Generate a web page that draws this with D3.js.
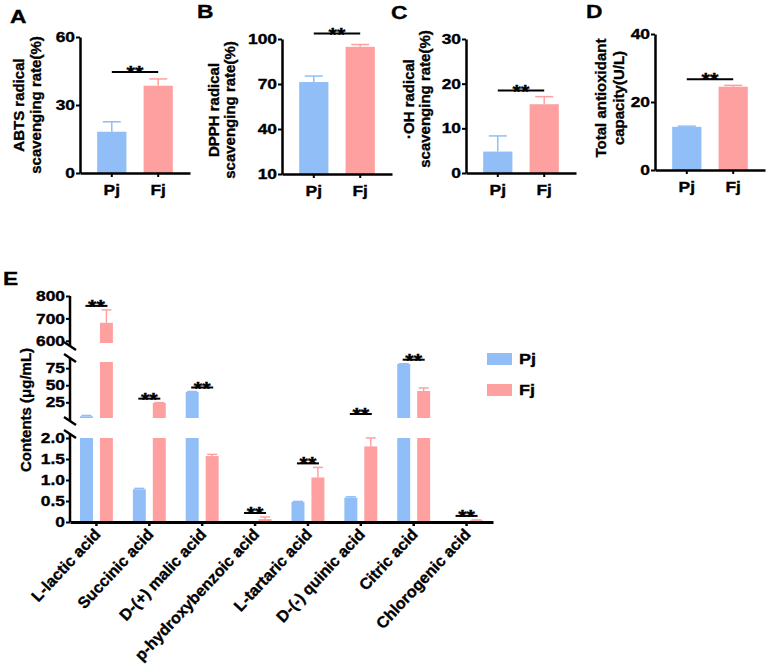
<!DOCTYPE html>
<html>
<head>
<meta charset="utf-8">
<script src="https://cdn.jsdelivr.net/npm/d3@7"></script>
<style>
  body { margin: 0; background: #fff; }
  text { font-family: "Liberation Sans", Arial, sans-serif; font-weight: bold; fill: #000; stroke: #000; stroke-width: 0.35px; }
</style>
</head>
<body>
<svg id="fig" width="767" height="671"></svg>
<script>
// ---- data ----
var groups = ["Pj", "Fj"];
var colors = ["#91BEF7", "#FFA0A0"];

// panels A-D
var letters = ["A", "B", "C", "D"];
var titles = [["ABTS radical", "scavenging rate(%)"],
              ["DPPH radical", "scavenging rate(%)"],
              ["\u00B7OH radical", "scavenging rate(%)"],
              ["Total antioxidant", "capacity(U/L)"]];
var domains = [[0, 60], [10, 100], [0, 30], [0, 40]];
var yTicks = [[0, 30, 60], [10, 40, 70, 100], [0, 10, 20, 30], [0, 20, 40]];
var pjMean = [18.2, 71.3, 4.8, 12.7];
var pjErr = [4.4, 4.0, 3.5, 0.2];
var fjMean = [38.5, 94.8, 15.4, 24.5];
var fjErr = [3.0, 1.5, 1.7, 0.4];

// panel E
var acids = ["L-lactic acid", "Succinic acid", "D-(+) malic acid", "p-hydroxybenzoic acid",
             "L-tartaric acid", "D-(-) quinic acid", "Citric acid", "Chlorogenic acid"];
var pjContent = [4.5, 0.78, 40, 0, 0.48, 0.58, 81, 0];
var pjContentErr = [1.2, 0.02, 0.8, 0, 0.01, 0.02, 0.5, 0];
var fjContent = [680, 24, 1.57, 0.07, 1.06, 1.8, 41.5, 0.04];
var fjContentErr = [58, 0.5, 0.04, 0.05, 0.24, 0.22, 4.5, 0.01];
var segDomains = [[0, 2], [2, 84], [590, 800]];
var segTicks = [[0, 0.5, 1, 1.5, 2], [25, 50, 75], [600, 700, 800]];
var segFormats = [function(d){ return d == 0 ? "0" : d3.format(".1f")(d); }, d3.format("d"), d3.format("d")];

// ---- layout ----
var svg = d3.select("#fig");
var SX = 1.2; // glyphs in the figure look wider than tall

function hText(parent, x, y, txt, size, anchor) {
  return parent.append("text")
    .attr("transform", "translate(" + x + "," + y + ") scale(" + SX + ",1)")
    .attr("text-anchor", anchor || "middle")
    .style("font-size", size + "px")
    .text(txt);
}

var boxes = [
  {x: 80, top: 37, bot: 173, l: [10, 23], t: [24, 41], ty: 105, gap: 7},
  {x: 282, top: 39, bot: 174, l: [197, 18], t: [219, 235], ty: 110, gap: 11},
  {x: 466, top: 39, bot: 173, l: [391, 19], t: [414, 430], ty: 99, gap: 6},
  {x: 655, top: 34, bot: 170, l: [586, 18], t: [606, 624], ty: 98, gap: 6}
];
var panelW = 110;

boxes.forEach(function(b, i) {
  var g = svg.append("g");
  var x = d3.scaleBand().domain(groups).range([b.x, b.x + panelW]).paddingInner(0.37).paddingOuter(0.37);
  var y = d3.scaleLinear().domain(domains[i]).range([b.bot, b.top]);
  var means = [pjMean[i], fjMean[i]], errs = [pjErr[i], fjErr[i]];

  // error bars first, bars on top
  groups.forEach(function(k, j) {
    var cx = x(k) + x.bandwidth() / 2;
    g.append("line").attr("x1", cx).attr("x2", cx)
      .attr("y1", y(means[j])).attr("y2", y(means[j] + errs[j]))
      .attr("stroke", colors[j]).attr("stroke-width", 1.5);
    g.append("line").attr("x1", cx - 9).attr("x2", cx + 9)
      .attr("y1", y(means[j] + errs[j])).attr("y2", y(means[j] + errs[j]))
      .attr("stroke", colors[j]).attr("stroke-width", 1.5);
  });
  g.selectAll("rect.bar").data(groups).enter().append("rect")
    .attr("class", "bar")
    .attr("x", function(d) { return x(d); })
    .attr("width", x.bandwidth())
    .attr("y", function(d, j) { return y(means[j]); })
    .attr("height", function(d, j) { return b.bot - y(means[j]); })
    .attr("fill", function(d, j) { return colors[j]; });

  var ya = g.append("g").attr("transform", "translate(" + b.x + ",0)")
    .call(d3.axisLeft(y).tickValues(yTicks[i]).tickSize(4).tickPadding(2).tickSizeOuter(0));
  var xa = g.append("g").attr("transform", "translate(0," + b.bot + ")")
    .call(d3.axisBottom(x).tickSize(4).tickPadding(4).tickSizeOuter(0));
  [ya, xa].forEach(function(a) {
    a.select(".domain").attr("stroke-width", 2.5);
    a.selectAll(".tick line").attr("stroke-width", 2);
    a.selectAll(".tick text").style("font-size", "14.5px")
      .attr("font-family", null)
      .attr("transform", "scale(" + SX + ",1)");
  });
  xa.selectAll(".tick text").attr("dy", "1.0em");
  ya.selectAll(".tick text").attr("x", -5 / SX);

  // significance
  var top = d3.min(means.map(function(m, j) { return y(m + errs[j]); }));
  var ly = top - b.gap;
  var c0 = x("Pj") + x.bandwidth() / 2, c1 = x("Fj") + x.bandwidth() / 2;
  g.append("line").attr("x1", c0).attr("x2", c1).attr("y1", ly).attr("y2", ly)
    .attr("stroke", "#000").attr("stroke-width", 2);
  hText(g, (c0 + c1) / 2, ly + 7, "**", 18);

  // titles
  hText(g, b.l[0], b.l[1], letters[i], 19, "start");
  titles[i].forEach(function(t, k) {
    g.append("text")
      .attr("transform", "translate(" + b.t[k] + "," + b.ty + ") rotate(-90)")
      .attr("text-anchor", "middle")
      .style("font-size", "15px")
      .text(t);
  });
});

// ---- panel E ----
var E = svg.append("g");
var axisX = 70, axisY = 522;
var segRanges = [[axisY, 438], [418, 362], [343, 296]];
var segScales = segDomains.map(function(d, i) { return d3.scaleLinear().domain(d).range(segRanges[i]); });

function segOf(v) {
  for (var i = 0; i < segDomains.length; i++) {
    if (v <= segDomains[i][1]) return i;
  }
  return segDomains.length - 1;
}
function yOf(v) { return segScales[segOf(v)](v); }

var xE = d3.scaleBand().domain(acids).range([axisX, 493]).padding(0);
var xIn = d3.scaleBand().domain(groups).range([0, xE.bandwidth()]).paddingInner(0.35).paddingOuter(0.5);

var series = [
  {key: "Pj", vals: pjContent, errs: pjContentErr, color: colors[0]},
  {key: "Fj", vals: fjContent, errs: fjContentErr, color: colors[1]}
];

series.forEach(function(s) {
  acids.forEach(function(a, i) {
    var v = s.vals[i], e = s.errs[i];
    var bx = xE(a) + xIn(s.key), cx = bx + xIn.bandwidth() / 2;
    // error bar in the segment holding the mean
    var si = segOf(v), sc = segScales[si];
    var et = sc(Math.min(v + e, segDomains[si][1]));
    if (e > 0) {
      E.append("line").attr("x1", cx).attr("x2", cx).attr("y1", sc(v)).attr("y2", et)
        .attr("stroke", s.color).attr("stroke-width", 1.5);
      E.append("line").attr("x1", cx - 5).attr("x2", cx + 5).attr("y1", et).attr("y2", et)
        .attr("stroke", s.color).attr("stroke-width", 1.5);
    }
    // bar pieces per segment
    segScales.forEach(function(sc2, k) {
      var d0 = segDomains[k][0], d1 = segDomains[k][1];
      if (v <= d0) return;
      var yt = sc2(Math.min(v, d1));
      E.append("rect").attr("x", bx).attr("width", xIn.bandwidth())
        .attr("y", yt).attr("height", sc2(d0) - yt)
        .attr("fill", s.color);
    });
  });
});

// y axis pieces
segScales.forEach(function(sc, k) {
  var a = E.append("g").attr("transform", "translate(" + axisX + ",0)")
    .call(d3.axisLeft(sc).tickValues(segTicks[k]).tickFormat(segFormats[k]).tickSize(4).tickPadding(2).tickSizeOuter(0));
  a.select(".domain").remove();
  a.selectAll(".tick line").attr("stroke-width", 2);
  a.selectAll(".tick text").style("font-size", "14.5px").attr("font-family", null)
    .attr("x", -5 / SX).attr("transform", "scale(" + SX + ",1)");
  var r = sc.range();
  var y0 = r[0] + (k > 0 ? 3 : 0), y1 = r[1] - (k < segScales.length - 1 ? 4 : 0);
  E.append("line").attr("x1", axisX).attr("x2", axisX).attr("y1", y0).attr("y2", y1)
    .attr("stroke", "#000").attr("stroke-width", 2.5);
  // break marks
  if (k > 0) E.append("line").attr("x1", axisX - 6).attr("y1", y0 - 4).attr("x2", axisX + 6).attr("y2", y0 + 4)
    .attr("stroke", "#000").attr("stroke-width", 2.5);
  if (k < segScales.length - 1) E.append("line").attr("x1", axisX - 6).attr("y1", y1 - 4).attr("x2", axisX + 6).attr("y2", y1 + 4)
    .attr("stroke", "#000").attr("stroke-width", 2.5);
});

// x axis
var xaE = E.append("g").attr("transform", "translate(0," + axisY + ")")
  .call(d3.axisBottom(xE).tickSize(4).tickSizeOuter(0));
xaE.select(".domain").attr("stroke-width", 3);
xaE.selectAll(".tick line").attr("stroke-width", 2.5);
xaE.selectAll(".tick text").remove();
acids.forEach(function(a) {
  var cx = xE(a) + xE.bandwidth() / 2;
  E.append("text")
    .attr("transform", "translate(" + (cx + 5) + "," + (axisY + 13) + ") rotate(-47)")
    .attr("text-anchor", "end")
    .style("font-size", "16px")
    .text(a);
});

// significance in E
acids.forEach(function(a, i) {
  var cx = xE(a) + xE.bandwidth() / 2;
  var topY = Math.min(yOf(pjContent[i] + pjContentErr[i]), yOf(fjContent[i] + fjContentErr[i]));
  var ly = topY - 4;
  E.append("line").attr("x1", cx - 11).attr("x2", cx + 11).attr("y1", ly).attr("y2", ly)
    .attr("stroke", "#000").attr("stroke-width", 2);
  hText(E, cx, ly + 7, "**", 18);
});

// labels E
hText(E, 3, 285, "E", 19, "start");
E.append("text")
  .attr("transform", "translate(31,410) rotate(-90)")
  .attr("text-anchor", "middle")
  .style("font-size", "15px")
  .text("Contents (\u03BCg/mL)");

// legend
series.forEach(function(s, i) {
  var ly = 353 + i * 31;
  E.append("rect").attr("x", 487).attr("y", ly).attr("width", 25).attr("height", 12).attr("fill", s.color);
  hText(E, 519, ly + 11, s.key, 15, "start");
});
</script>
</body>
</html>
